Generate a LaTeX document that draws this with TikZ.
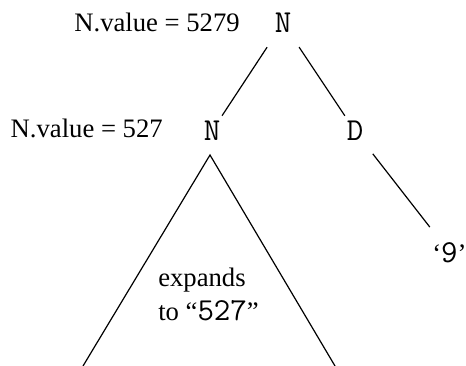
\documentclass[tikz,border=0pt]{standalone}
\usepackage{fontspec}
\setmainfont{Liberation Serif}
\usetikzlibrary{positioning}
\newcommand{\mono}[1]{{\fontsize{24}{25.5}\selectfont\ttfamily #1}}

\begin{document}
\begin{tikzpicture}[x=0.75pt,y=-0.75pt,
    every node/.style={font=\fontsize{20}{25.5}\selectfont},
    sym/.style={circle,inner sep=0pt,minimum size=27pt,font=\fontsize{24}{25.5}\selectfont\ttfamily},
    branch/.style={line width=0.9pt,shorten <=8pt}]

\useasboundingbox (0,0) rectangle (466,366);

% Parse tree nodes
\node[sym] (ntop) at (283,23) {N};
\node[sym] (nleft) at (212,131) {N};
\node[sym] (dig) at (355,131) {D};
\node[anchor=base west,inner sep=0pt] (nine) at (432,262) {`\mono{9}'};

% Attribute values
\node[anchor=base east,inner sep=0pt] at (240,32) {N.value = 5279};
\node[anchor=base east,inner sep=0pt] at (163,138) {N.value = 527};

% Branches
\draw[branch] (ntop) -- (nleft);
\draw[branch] (ntop) -- (dig);
\draw[branch,shorten >=14pt] (dig) -- (nine);

% Subtree
\draw[line width=0.9pt] (83,366) -- (210,155) -- (335,366);
\node[anchor=west,align=left,inner sep=0pt] at (158,294) {expands\\to ``\mono{527}''};

\end{tikzpicture}
\end{document}
